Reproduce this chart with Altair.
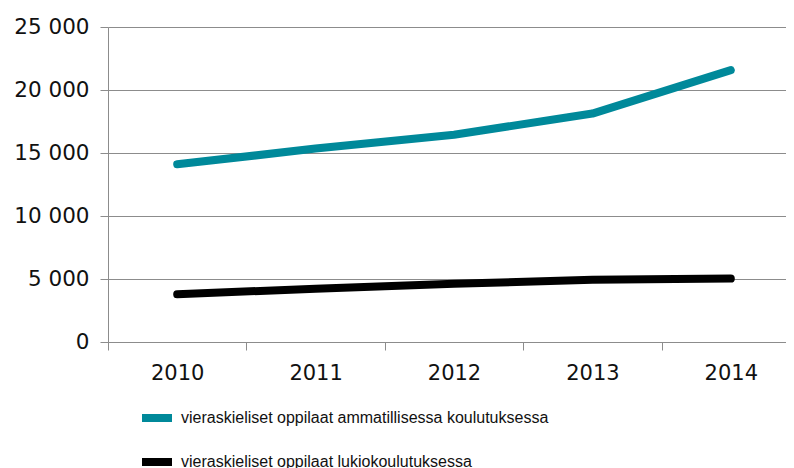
import altair as alt
import pandas as pd

years = [2010, 2011, 2012, 2013, 2014]
series_names = [
    "vieraskieliset oppilaat ammatillisessa koulutuksessa",
    "vieraskieliset oppilaat lukiokoulutuksessa",
]
ammatillinen = [14100, 15350, 16450, 18130, 21580]
lukio = [3790, 4230, 4620, 4940, 5030]
colors = ["#00899a", "#000000"]
y_ticks = [0, 5000, 10000, 15000, 20000, 25000]

rows = []
for y, v in zip(years, ammatillinen):
    rows.append({"vuosi": y, "sarja": series_names[0], "arvo": v})
for y, v in zip(years, lukio):
    rows.append({"vuosi": y, "sarja": series_names[1], "arvo": v})
df = pd.DataFrame(rows)

LABEL_FONT = "DejaVu Sans"
LEGEND_FONT = "Liberation Sans"

W = 678
STEP = 138.4  # pixels per year, as in the reference
x_domain = [years[0] - 0.5, years[0] - 0.5 + W / STEP]

chart = (
    alt.Chart(df)
    .mark_line(strokeWidth=8, strokeCap="round", strokeJoin="round")
    .encode(
        x=alt.X(
            "vuosi:Q",
            title=None,
            scale=alt.Scale(domain=x_domain, nice=False, zero=False),
            axis=alt.Axis(
                values=years,
                format="d",
                labelAngle=0,
                tickOffset=-STEP / 2,
                labelOffset=STEP / 2,
                labelFontSize=21,
                labelFont=LABEL_FONT,
                labelColor="#111111",
                labelPadding=12,
                tickSize=8,
                tickColor="#8c8c8c",
                domainColor="#8c8c8c",
                grid=False,
                labelFlush=False,
                labelOverlap=False,
            ),
        ),
        y=alt.Y(
            "arvo:Q",
            title=None,
            scale=alt.Scale(domain=[0, 25000], nice=False),
            axis=alt.Axis(
                values=y_ticks,
                labelExpr="replace(format(datum.value, ','), ',', ' ')",
                labelFontSize=21.5,
                labelFont=LABEL_FONT,
                labelColor="#111111",
                labelPadding=11,
                tickSize=8,
                tickColor="#8c8c8c",
                domainColor="#8c8c8c",
                gridColor="#8c8c8c",
                gridOpacity=1,
                gridWidth=1,
            ),
        ),
        color=alt.Color(
            "sarja:N",
            sort=series_names,
            scale=alt.Scale(domain=series_names, range=colors),
            legend=alt.Legend(
                title=None,
                orient="none",
                legendX=30,
                legendY=372,
                direction="vertical",
                symbolType="stroke",
                symbolSize=900,
                symbolStrokeWidth=8,
                labelFontSize=16,
                labelFont=LEGEND_FONT,
                labelColor="#111111",
                labelOffset=5,
                rowPadding=9,
                padding=0,
                labelLimit=0,
            ),
        ),
    )
    .properties(
        width=W,
        height=315,
        autosize=alt.AutoSizeParams(type="none"),
        padding={"left": 100, "top": 19, "right": 0, "bottom": 126},
    )
    .configure_view(stroke=None)
    .configure(background="white")
)

chart.save("out.html", embed_options={"renderer": "svg", "actions": False})
